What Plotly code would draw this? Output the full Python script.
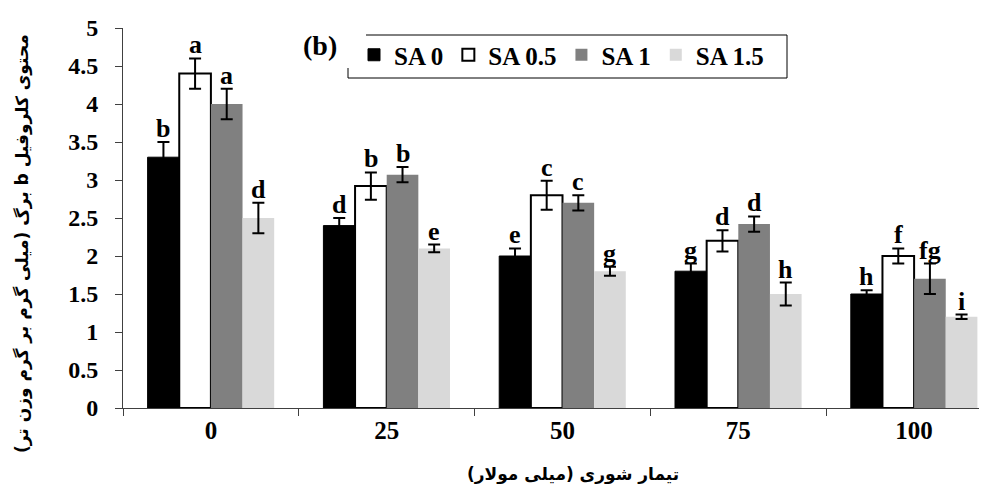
import plotly.graph_objects as go

categories = ["0", "25", "50", "75", "100"]
series_names = ["SA 0", "SA 0.5", "SA 1", "SA 1.5"]

sa0 = [3.3, 2.4, 2.0, 1.8, 1.5]
sa05 = [4.4, 2.92, 2.8, 2.2, 2.0]
sa1 = [4.0, 3.07, 2.7, 2.42, 1.7]
sa15 = [2.5, 2.1, 1.8, 1.5, 1.2]

err_sa0 = [0.2, 0.1, 0.1, 0.1, 0.05]
err_sa05 = [0.2, 0.18, 0.19, 0.14, 0.1]
err_sa1 = [0.2, 0.1, 0.1, 0.1, 0.2]
err_sa15 = [0.2, 0.05, 0.06, 0.15, 0.03]

letters_sa0 = ["b", "d", "e", "g", "h"]
letters_sa05 = ["a", "b", "c", "d", "f"]
letters_sa1 = ["a", "b", "c", "d", "fg"]
letters_sa15 = ["d", "e", "g", "h", "i"]

y_title = "محتوی کلروفیل b برگ (میلی گرم بر گرم وزن تر)"
x_title = "تیمار شوری (میلی مولار)"
panel_label = "(b)"

values = [sa0, sa05, sa1, sa15]
errors = [err_sa0, err_sa05, err_sa1, err_sa15]
letters = [letters_sa0, letters_sa05, letters_sa1, letters_sa15]
fills = ["#000000", "#ffffff", "#808080", "#d9d9d9"]
outlines = ["#000000", "#000000", "#808080", "#d9d9d9"]
outline_w = [1, 2, 0, 0]

SERIF = "Liberation Serif, Times New Roman, DejaVu Serif, serif"
ARABIC = "DejaVu Sans, Liberation Serif, serif"
RLE, PDF = "\u202b", "\u202c"

fig = go.Figure()
for i in range(4):
    fig.add_trace(go.Bar(
        x=categories, y=values[i], name="<b>%s</b>" % series_names[i],
        marker=dict(color=fills[i], line=dict(color=outlines[i], width=outline_w[i])),
        error_y=dict(type="data", array=errors[i], visible=True,
                     color="#000000", thickness=2, width=6),
    ))

bargap = 0.28
bw = (1 - bargap) / 4
annotations = []
for i in range(4):
    for j in range(len(categories)):
        annotations.append(dict(
            x=j + (i - 1.5) * bw, y=values[i][j] + errors[i][j],
            xref="x", yref="y", text="<b>%s</b>" % letters[i][j],
            showarrow=False, yanchor="bottom", yshift=-3,
            font=dict(family=SERIF, size=26, color="#000000"),
        ))


def px(xp):
    return (xp - 115) / 872


def py(yp):
    return (400 - yp) / 380


annotations.append(dict(
    x=px(312), y=py(37), xref="paper", yref="paper",
    text="<b>%s</b>" % panel_label, showarrow=False,
    font=dict(family=SERIF, size=28, color="#000000"),
    xanchor="center", yanchor="middle",
))

# axis titles
annotations.append(dict(
    x=px(14), y=py(236), xref="paper", yref="paper",
    text="<b>%s%s%s</b>" % (RLE, y_title, PDF), showarrow=False, textangle=-90,
    font=dict(family=ARABIC, size=17, color="#000000"),
    xanchor="center", yanchor="middle",
))
annotations.append(dict(
    x=px(565), y=py(466), xref="paper", yref="paper",
    text="<b>%s%s%s</b>" % (RLE, x_title, PDF), showarrow=False,
    font=dict(family=ARABIC, size=17, color="#000000"),
    xanchor="center", yanchor="middle",
))

line = dict(color="#000000", width=1)
shapes = [
    dict(type="line", xref="paper", yref="paper", x0=px(358), x1=px(779), y0=py(27), y1=py(27), line=line),
    dict(type="line", xref="paper", yref="paper", x0=px(779), x1=px(779), y0=py(27), y1=py(70), line=line),
    dict(type="line", xref="paper", yref="paper", x0=px(340), x1=px(779), y0=py(70), y1=py(70), line=line),
    dict(type="line", xref="paper", yref="paper", x0=px(340), x1=px(340), y0=py(60), y1=py(70), line=line),
]

fig.update_layout(
    width=987, height=490,
    margin=dict(l=115, r=0, t=20, b=90),
    paper_bgcolor="#ffffff", plot_bgcolor="#ffffff",
    barmode="group", bargap=bargap, bargroupgap=0,
    showlegend=True,
    legend=dict(orientation="h", x=px(346), y=py(47), xanchor="left", yanchor="middle",
                font=dict(family=SERIF, size=25, color="#000000"),
                bgcolor="rgba(0,0,0,0)", borderwidth=0, itemclick=False,
                traceorder="normal"),
    annotations=annotations,
    shapes=shapes,
    xaxis=dict(
        type="category", range=[-0.5, 4.5 - 7 / 175.75],
        showline=True, linecolor="#404040", linewidth=1,
        ticks="outside", ticklen=7, tickcolor="#404040", tickson="boundaries",
        tickfont=dict(family=SERIF, size=25, color="#000000", weight="bold"),
        showgrid=False, zeroline=False,
    ),
    yaxis=dict(
        range=[0, 5], dtick=0.5, tickformat="~g",
        showline=True, linecolor="#404040", linewidth=1,
        ticks="outside", ticklen=7, tickcolor="#404040",
        ticklabelstandoff=12,
        tickfont=dict(family=SERIF, size=24, color="#000000", weight="bold"),
        showgrid=False, zeroline=False,
    ),
)

fig.write_html("out.html")
